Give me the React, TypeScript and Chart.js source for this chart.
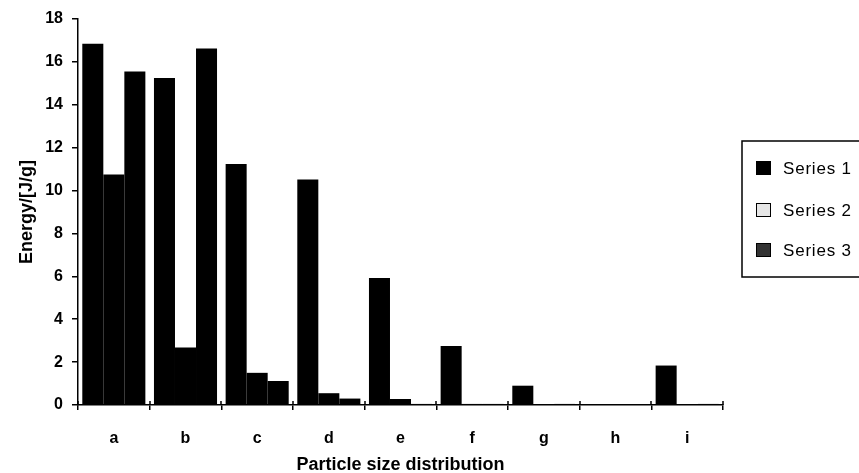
import React, { useEffect, useRef } from "react";
import { Chart, registerables } from "chart.js";

Chart.register(...registerables);

const categories = ["a", "b", "c", "d", "e", "f", "g", "h", "i"];
const seriesNames = ["Series 1", "Series 2", "Series 3"];
const series1 = [16.85, 15.25, 11.24, 10.52, 5.92, 2.75, 0.9, 0, 1.84];
const series2 = [10.75, 2.68, 1.5, 0.55, 0.28, 0.05, 0, 0, 0];
const series3 = [15.55, 16.62, 1.12, 0.3, 0.05, 0.05, 0.05, 0, 0.05];
const yTicks = [0, 2, 4, 6, 8, 10, 12, 14, 16, 18];

const FONT = "'Liberation Sans', Arial, sans-serif";

const legendPlugin = {
  id: "boxLegend",
  afterDraw(chart: any) {
    const ctx = chart.ctx;
    ctx.save();
    // tick marks crossing the x axis
    const xs = chart.scales.x;
    const n = chart.data.labels.length;
    ctx.strokeStyle = "#000";
    ctx.lineWidth = 1.5;
    for (let i = 0; i <= n; i++) {
      const x = Math.round(xs.left + (i * (xs.right - xs.left)) / n);
      ctx.beginPath();
      ctx.moveTo(x, xs.top - 4);
      ctx.lineTo(x, xs.top);
      ctx.stroke();
    }
    // legend box
    ctx.strokeRect(742, 141, 140, 136);
    const rows = [168, 210, 250];
    const fills = ["#000", "#e6e6e6", "#333"];
    chart.data.datasets.forEach((ds: any, i: number) => {
      const y = rows[i];
      ctx.fillStyle = fills[i];
      ctx.fillRect(756, y - 7, 15, 14);
      ctx.strokeStyle = "#000";
      ctx.lineWidth = 1;
      ctx.strokeRect(756.5, y - 6.5, 14, 13);
      ctx.fillStyle = "#000";
      ctx.font = `17px ${FONT}`;
      try {
        (ctx as any).letterSpacing = "0.8px";
      } catch (e) {}
      ctx.textBaseline = "middle";
      ctx.textAlign = "left";
      ctx.fillText(ds.label, 783, y + 1);
    });
    ctx.restore();
  },
};

export default function App() {
  const ref = useRef<HTMLCanvasElement | null>(null);
  useEffect(() => {
    document.body.style.margin = "0";
    const canvas = ref.current!;
    const chart = new Chart(canvas, {
      type: "bar",
      data: {
        labels: categories,
        datasets: [series1, series2, series3].map((d, i) => ({
          label: seriesNames[i],
          data: d,
          backgroundColor: "#000",
          borderWidth: 0,
          barPercentage: 1.0,
          categoryPercentage: 0.88,
        })),
      },
      options: {
        animation: false,
        responsive: false,
        devicePixelRatio: 1,
        layout: { padding: { top: 19, right: 136, left: 0, bottom: 0 } },
        plugins: { legend: { display: false }, tooltip: { enabled: false } },
        scales: {
          x: {
            grid: {
              drawOnChartArea: false,
              drawTicks: true,
              tickLength: 5,
              color: "#000",
              lineWidth: 1.5,
            },
            border: { color: "#000", width: 1.5 },
            ticks: {
              color: "#000",
              padding: 19,
              font: { family: FONT, size: 16, weight: "bold" },
            },
            title: {
              display: true,
              text: "Particle size distribution",
              color: "#000",
              font: { family: FONT, size: 18, weight: "bold" },
              padding: { top: 0, bottom: -3 },
            },
            afterFit(s: any) {
              s.height = 68;
            },
          },
          y: {
            min: 0,
            max: 18,
            afterBuildTicks(s: any) {
              s.ticks = yTicks.map((v) => ({ value: v }));
            },
            grid: {
              drawOnChartArea: false,
              drawTicks: true,
              tickLength: 6,
              color: "#000",
              lineWidth: 1.5,
            },
            border: { color: "#000", width: 1.5 },
            ticks: {
              color: "#000",
              padding: 9,
              font: { family: FONT, size: 16, weight: "bold" },
            },
            title: {
              display: true,
              text: "Energy/[J/g]",
              color: "#000",
              font: { family: FONT, size: 18, weight: "bold" },
              padding: { top: 16, bottom: 0 },
            },
            afterFit(s: any) {
              s.width = 78;
            },
          },
        },
      },
      plugins: [legendPlugin],
    } as any);
    return () => chart.destroy();
  }, []);
  return <canvas ref={ref} width={859} height={473} style={{ display: "block" }} />;
}
